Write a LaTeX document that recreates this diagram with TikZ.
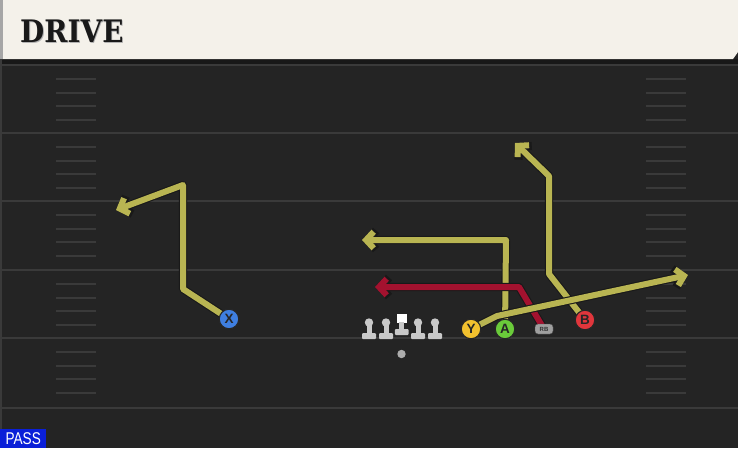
\documentclass[tikz,border=0pt]{standalone}
\usepackage{fontspec}
\setmainfont{DejaVu Sans}
\newfontfamily\hdrfont[FakeStretch=0.9]{DejaVu Serif}
\newfontfamily\lblfont{Liberation Sans}
\newfontfamily\passfont[FakeStretch=0.8]{Liberation Sans}
\usetikzlibrary{arrows.meta}
\definecolor{field}{HTML}{242424}
\definecolor{darkband}{HTML}{181818}
\definecolor{cream}{HTML}{F4F1EA}
\definecolor{fline}{HTML}{3A3A3A}
\definecolor{rtyellow}{HTML}{B9B552}
\definecolor{rtred}{HTML}{A3122F}
\definecolor{pblue}{HTML}{3F7FE0}
\definecolor{pyellow}{HTML}{F2C12E}
\definecolor{pgreen}{HTML}{6ACB3A}
\definecolor{pred}{HTML}{E0363C}
\definecolor{lmgray}{HTML}{C9C9C9}
\definecolor{passblue}{HTML}{0A1FD8}
\newcommand\myroute[2]{\draw[outline] #2; \draw[#1] #2;}
\tikzset{
  fieldline/.style={fline, line width=2pt},
  hashline/.style={fline, line width=1.8pt},
  outline/.style={black!90, line width=8.2pt, line join=round, -{Straight Barb[length=8.6pt,width=19pt]}},
  yroute/.style={rtyellow, line width=6pt, line join=round, -{Straight Barb[length=7.6pt,width=16.5pt]}},
  rroute/.style={rtred, line width=6pt, line join=round, -{Straight Barb[length=7.6pt,width=16.5pt]}},
  player/.style={circle, draw=black!85, line width=1.1pt, minimum size=19.5pt, inner sep=0pt,
    font=\lblfont\bfseries\fontsize{13.5}{13.5}\selectfont, text=black!85},
  lm/.style={fill=lmgray},
}
\begin{document}
\begin{tikzpicture}[x=1pt,y=-1pt]
\useasboundingbox (0,0) rectangle (738,448);
\fill[field] (0,0) rectangle (738,448);
\fill[darkband] (0,59) rectangle (738,64);
% header
\fill[cream] (0,0) -- (738,0) -- (738,52) -- (733,59) -- (0,59) -- cycle;
\fill[gray!70] (0,0) rectangle (3,59);
\fill[fline] (0,59) rectangle (2,448);
% field lines and hashes
\foreach \yy in {65,133,201,270,338,408} \draw[fieldline] (0,\yy) -- (738,\yy);
\foreach \yy in {65,133,201,270,338} {
  \foreach \dd in {14,28,41,55} {
    \draw[hashline] (56,\yy+\dd) -- (96,\yy+\dd);
    \draw[hashline] (646,\yy+\dd) -- (686,\yy+\dd);
  }
}
% title
\node[anchor=west, text=gray!60, font=\hdrfont\bfseries\fontsize{31}{31}\selectfont, inner sep=0pt] at (20.8,32.3) {DRIVE};
\node (title) [anchor=west, text=black!90, font=\hdrfont\bfseries\fontsize{31}{31}\selectfont, inner sep=0pt] at (20,31.5) {DRIVE};
% player positions
\coordinate (pX) at (229,319);
\coordinate (pY) at (471,329);
\coordinate (pA) at (505,329);
\coordinate (pRB) at (544,329);
\coordinate (pB) at (585,320);
% route corners
\coordinate (x1) at (183,289);
\coordinate (x2) at (183,185);
\coordinate (x3) at (116,210);
\coordinate (y1) at (497,316);
\coordinate (y2) at (688,275);
\coordinate (a1) at (506,240);
\coordinate (a2) at (362,240);
\coordinate (r1) at (519,287);
\coordinate (r2) at (375,287);
\coordinate (b1) at (549,274);
\coordinate (b2) at (549,176);
\coordinate (b3) at (515,143);
% routes
\myroute{yroute}{(pX) -- (x1) -- (x2) -- (x3)}
\myroute{yroute}{(pB) -- (b1) -- (b2) -- (b3)}
\myroute{yroute}{(pA) -- (a1) -- (a2)}
\myroute{rroute}{(pRB) -- (r1) -- (r2)}
\myroute{yroute}{(pY) -- (y1) -- (y2)}
% players
\node[player, fill=pblue] (X) at (pX) {X};
\node[player, fill=pyellow] (Y) at (pY) {Y};
\node[player, fill=pgreen] (A) at (pA) {A};
\node[player, fill=pred] (B) at (pB) {B};
\node[draw=black!70, fill=gray!75, rounded corners=3pt, minimum width=18pt, minimum height=10pt, inner sep=0pt,
  font=\lblfont\bfseries\fontsize{6}{6}\selectfont, text=black!80] (RB) at (pRB) {RB};
% linemen
\foreach \xx in {369,386,418,435} {
  \fill[lm] (\xx,322.5) circle (4.2);
  \fill[lm] (\xx-2.5,325) rectangle (\xx+2.5,334);
  \fill[lm, rounded corners=1pt] (\xx-7,333) rectangle (\xx+7,339);
}
\fill[white] (397,313.5) rectangle (406.5,322.5);
\fill[lm] (399.2,322) rectangle (404.2,330);
\fill[lm, rounded corners=1pt] (394.8,329) rectangle (408.6,335);
% QB
\fill[gray!65] (401.5,354) circle (4.2);
% pass label
\node[fill=passblue, text=white, font=\passfont\fontsize{17}{17}\selectfont, anchor=south west,
  minimum width=46pt, minimum height=19pt, inner sep=0pt] (pass) at (0,448) {PASS};
\end{tikzpicture}
\end{document}
